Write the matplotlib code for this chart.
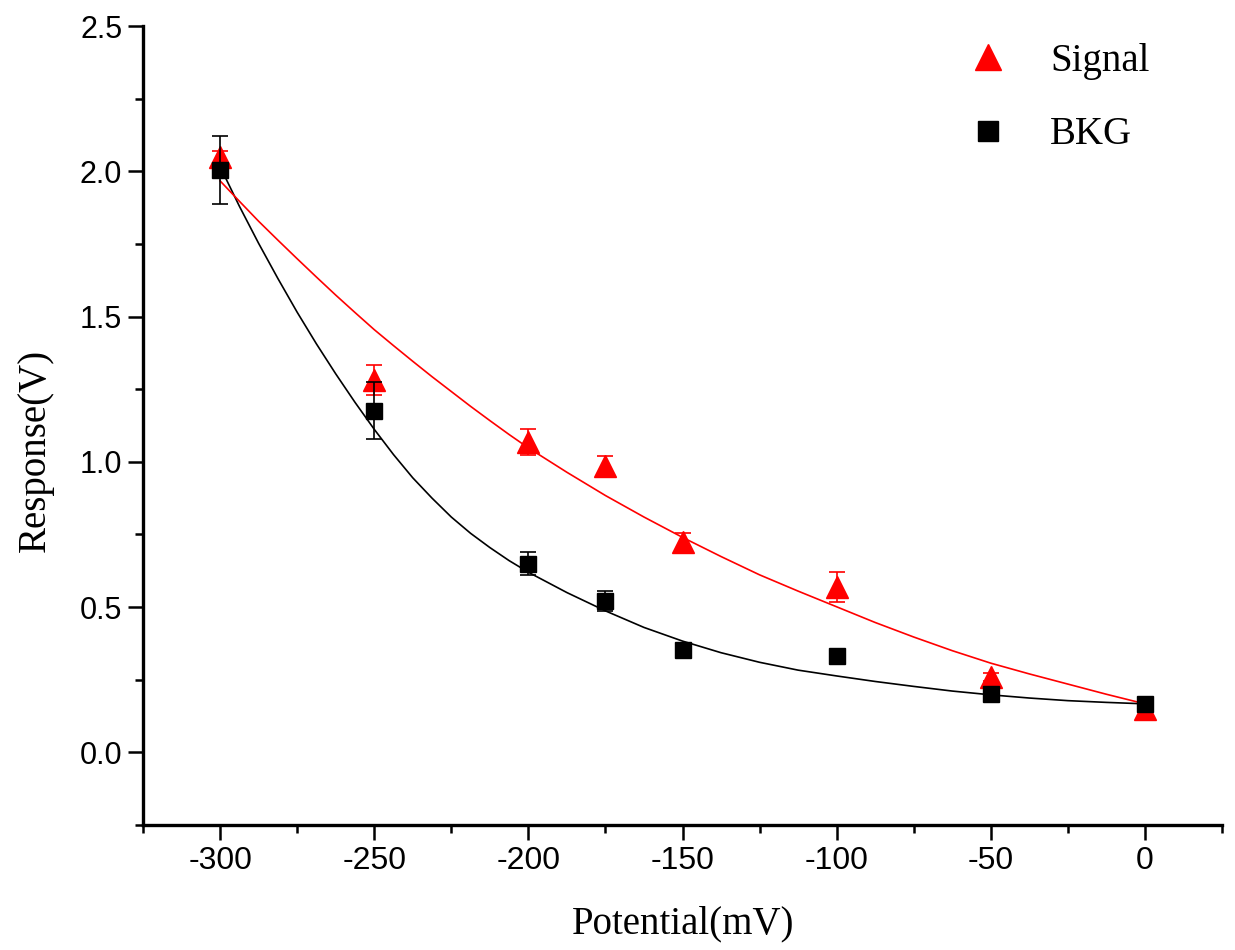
import matplotlib
matplotlib.use("Agg")
import matplotlib.pyplot as plt
from matplotlib.ticker import MultipleLocator, FixedLocator
from matplotlib.lines import Line2D

# ---- data ----
potential = [-300, -250, -200, -175, -150, -100, -50, 0]
signal = [2.049, 1.281, 1.068, 0.985, 0.724, 0.569, 0.259, 0.150]
signal_err = [0.021, 0.052, 0.044, 0.035, 0.030, 0.052, 0.015, 0.035]
bkg = [2.003, 1.175, 0.650, 0.521, 0.351, 0.330, 0.200, 0.165]
bkg_err = [0.117, 0.098, 0.038, 0.034, 0.010, 0.010, 0.010, 0.010]

# fitted curves, values
fit_x = [-300, -293.75, -287.5, -281.25, -275, -268.75, -262.5, -256.25, -250,
         -243.75, -237.5, -231.25, -225, -218.75, -212.5, -206.25, -200,
         -187.5, -175, -162.5, -150, -137.5, -125, -112.5, -100, -87.5,
         -75, -62.5, -50, -37.5, -25, -12.5, 0]
signal_fit = [1.967, 1.897, 1.828, 1.763, 1.699, 1.636, 1.574, 1.514, 1.455,
              1.400, 1.346, 1.293, 1.242, 1.191, 1.142, 1.094, 1.048,
              0.964, 0.884, 0.810, 0.740, 0.674, 0.611, 0.555, 0.501, 0.447,
              0.397, 0.350, 0.307, 0.270, 0.235, 0.200, 0.167]
bkg_fit = [2.016, 1.880, 1.752, 1.631, 1.515, 1.406, 1.303, 1.205, 1.112,
           1.025, 0.945, 0.875, 0.810, 0.754, 0.705, 0.660, 0.620,
           0.550, 0.487, 0.430, 0.383, 0.343, 0.310, 0.283, 0.263, 0.244,
           0.227, 0.211, 0.198, 0.187, 0.178, 0.172, 0.167]

x_ticks = [-300, -250, -200, -150, -100, -50, 0]
y_ticks = [0.0, 0.5, 1.0, 1.5, 2.0, 2.5]

W, H = 1235, 950
fig = plt.figure(figsize=(W / 100, H / 100), dpi=100)
ax = fig.add_axes([143 / W, 1 - 825 / H, (1222 - 143) / W, (825 - 26) / H])

ax.plot(fit_x, bkg_fit, color="black", lw=1.2, zorder=2)
ax.plot(fit_x, signal_fit, color="#ff0000", lw=1.2, zorder=2)

ax.errorbar(potential, signal, yerr=signal_err, fmt="^", color="#ff0000",
            ms=15.5, mec="#ff0000", ecolor="#ff0000", elinewidth=1.2,
            capsize=6, capthick=1.2, zorder=3)
ax.errorbar(potential, bkg, yerr=bkg_err, fmt="s", color="black",
            ms=12, ecolor="black", elinewidth=1.2,
            capsize=6, capthick=1.2, zorder=4)

ax.set_xlim(-325, 25)
ax.set_ylim(-0.25, 2.5)

for s in ["top", "right"]:
    ax.spines[s].set_visible(False)
for s in ["left", "bottom"]:
    ax.spines[s].set_linewidth(2.4)

ax.xaxis.set_major_locator(FixedLocator(x_ticks))
ax.xaxis.set_minor_locator(MultipleLocator(25))
ax.yaxis.set_major_locator(FixedLocator(y_ticks))
ax.yaxis.set_minor_locator(MultipleLocator(0.25))
ax.set_xticklabels([str(v) for v in x_ticks], family="Liberation Sans", fontsize=23)
ax.set_yticklabels([f"{v:.1f}" for v in y_ticks], family="Liberation Sans", fontsize=22)
ax.tick_params(which="major", direction="out", length=11, width=1.8, pad=4)
ax.tick_params(which="minor", direction="out", length=6, width=1.8)

fig.text(35 / W, 1 - 450 / H, "Response(V)", rotation=90, ha="center",
         va="center", family="Liberation Serif", fontsize=28)
fig.text(683 / W, 1 - 924 / H, "Potential(mV)", ha="center", va="center",
         family="Liberation Serif", fontsize=28)

handles = [Line2D([], [], ls="none", marker="^", ms=19, color="#ff0000"),
           Line2D([], [], ls="none", marker="s", ms=14.5, color="black")]
leg = ax.legend(handles, ["Signal", "BKG"], loc="upper left",
                bbox_to_anchor=((949 - 143) / 1079, (825 - 43) / 799),
                frameon=False, borderpad=0, borderaxespad=0,
                handletextpad=0.6, labelspacing=0.93,
                prop={"family": "Liberation Serif", "size": 28})

fig.savefig("out.png", dpi=100, facecolor="white")
